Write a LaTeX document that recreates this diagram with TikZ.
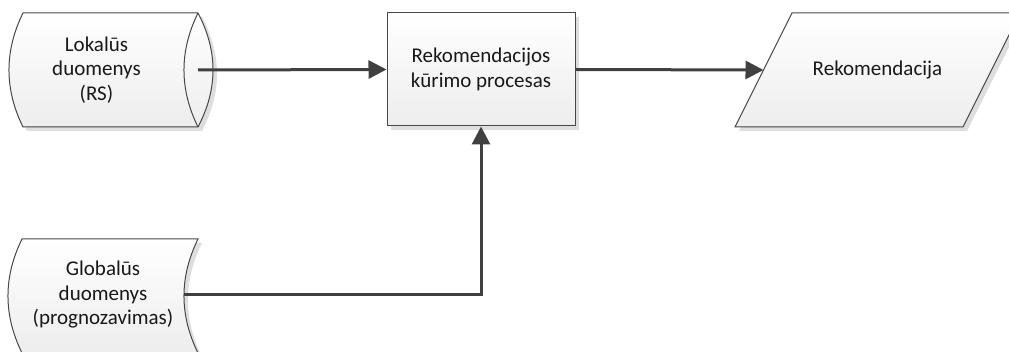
\documentclass[tikz,border=0pt]{standalone}
\usepackage{fontspec}
\setmainfont{Carlito}
\usetikzlibrary{arrows.meta}
\tikzset{
	shapeline/.style={draw=black!72, line width=1pt, top color=white, bottom color=black!7},
	shapeshadow/.style={fill=black!13, draw=none},
	flowarrow/.style={draw=black!75, line width=3pt, -{Triangle[length=18pt, width=18pt]}},
	flowtext/.style={align=center, font=\fontsize{21}{24.5}\selectfont, text=black!90}
}
\def\lokaluspath{(23,13) -- (198,13) .. controls (218,51) and (218,89) .. (198,127) -- (23,127) .. controls (4.3,89) and (4.3,51) .. cycle}
\def\globaluspath{(22,239) -- (198,239) .. controls (179.3,277) and (179.3,315) .. (198,353) -- (22,353) .. controls (3.3,315) and (3.3,277) .. cycle}
\def\rekpath{(792,13) -- (1020,13) -- (963,127) -- (735,127) -- cycle}

\begin{document}
\begin{tikzpicture}[x=1pt, y=-1pt]
		%%%%% START %%%%%
		\useasboundingbox (0,0) rectangle (1009,352);
		
		% shadows
		\fill[shapeshadow, shift={(4,4)}] \lokaluspath;
		\fill[shapeshadow, shift={(4,4)}] \globaluspath;
		\fill[shapeshadow, shift={(4,4)}] \rekpath;
		\fill[shapeshadow] (391,17) rectangle (579,130);
		
		% data shapes
		\path[shapeline] \lokaluspath;
		\draw[draw=black!72, line width=1pt] (198,13) .. controls (179.3,51) and (179.3,89) .. (198,127);
		\node[flowtext] (lokalus) at (96.5,70) {Lokalūs\\duomenys\\(RS)};
		\coordinate (lokalus-out) at (198,70);
		
		\path[shapeline] \globaluspath;
		\node[flowtext] (globalus) at (103,295) {Globalūs\\duomenys\\(prognozavimas)};
		\coordinate (globalus-out) at (184,295);
		
		\node[shapeline, flowtext, minimum width=188pt, minimum height=113pt, inner sep=0pt] (procesas) at (481,69.5) {Rekomendacijos\\kūrimo procesas};
		
		\path[shapeline] \rekpath;
		\node[flowtext] (rekomendacija) at (877.5,70) {Rekomendacija};
		\coordinate (rekomendacija-in) at (763.5,70);
		
		% connectors
		\draw[flowarrow] (lokalus-out) -- (procesas.west);
		\draw[flowarrow] (procesas.east) -- (rekomendacija-in);
		\draw[flowarrow] (globalus-out) -| (procesas.south);
		%%%%% END %%%%%
\end{tikzpicture}
\end{document}
